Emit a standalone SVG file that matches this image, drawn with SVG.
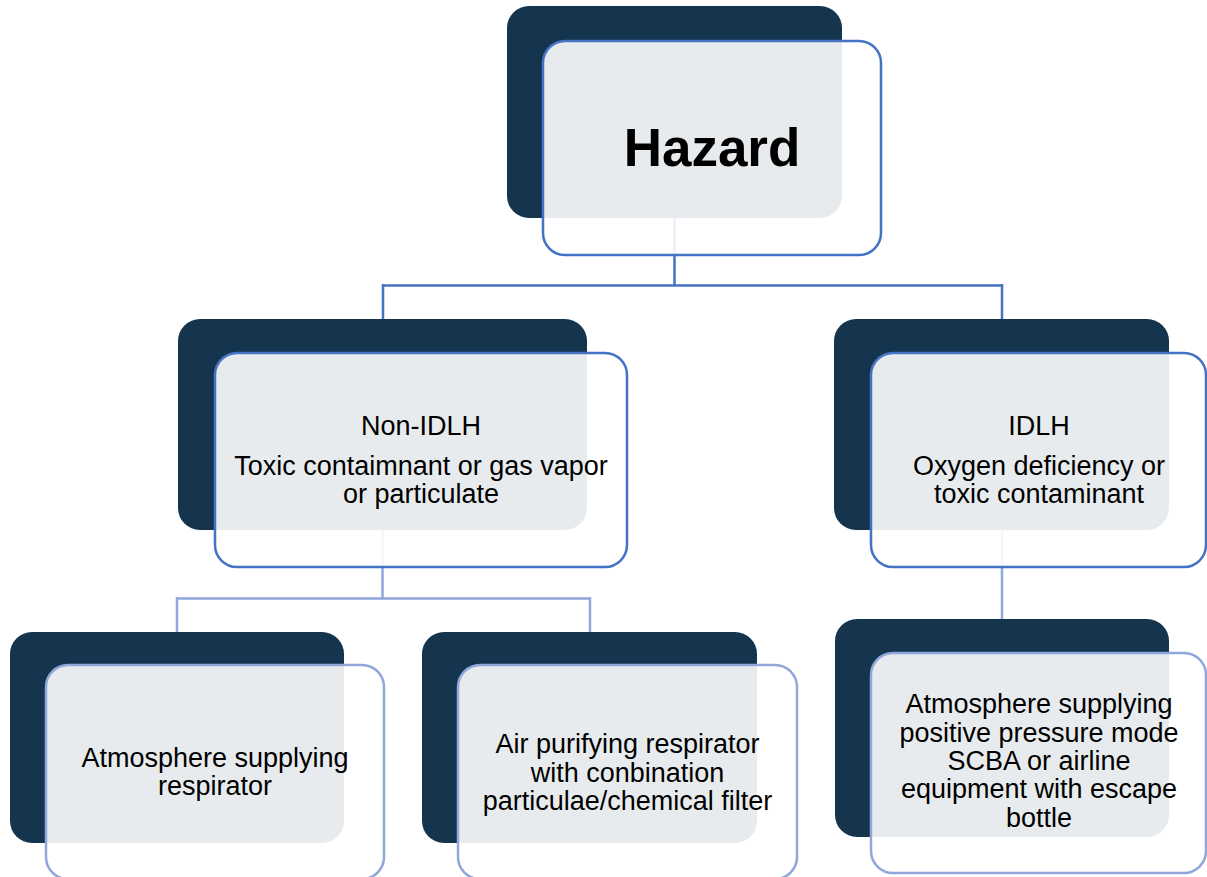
<svg xmlns="http://www.w3.org/2000/svg" width="1207" height="877" viewBox="0 0 1207 877">
<style>
.dark{fill:#15344e}
.lite1{fill:#ffffff;fill-opacity:0.9;stroke:#4472c4;stroke-width:2.5}
.lite2{fill:#ffffff;fill-opacity:0.9;stroke:#8fa7da;stroke-width:2.5}
.c1{fill:none;stroke:#4472c4;stroke-width:2.5}
.c2{fill:none;stroke:#8fa7da;stroke-width:2.5}
text{font-family:"Liberation Sans",Arial,Helvetica,sans-serif;fill:#000;text-anchor:middle}
.t2{font-size:27px}
.t3{font-size:27px}
</style>
<rect width="1207" height="877" fill="#ffffff"/>
<g id="connectors">
<path class="c1" d="M674.5,112 V285.5 M383,285.5 H1002 M383,284 V330 M1002,284 V330"/>
<path class="c2" d="M382.5,425 V598.5 M177,598.5 H590 M177,597 V640 M590,597 V640 M1002,425 V630"/>
</g>
<g id="hazard">
<rect class="dark" x="507" y="6" width="335" height="212" rx="22"/>
<rect class="lite1" x="543" y="41" width="338" height="214" rx="22"/>
<text x="712" y="166" style="font-size:53px;font-weight:bold">Hazard</text>
</g>
<g id="non-idlh">
<rect class="dark" x="178" y="319" width="409" height="211" rx="22"/>
<rect class="lite1" x="215" y="353" width="412" height="214" rx="22"/>
<text class="t2" x="421" y="435">Non-IDLH</text>
<text class="t2" x="421" y="475">Toxic contaimnant or gas vapor</text>
<text class="t2" x="421" y="503">or particulate</text>
</g>
<g id="idlh">
<rect class="dark" x="834" y="319" width="335" height="211" rx="22"/>
<rect class="lite1" x="871" y="353" width="335" height="214" rx="22"/>
<text class="t2" x="1039" y="435">IDLH</text>
<text class="t2" x="1039" y="475">Oxygen deficiency or</text>
<text class="t2" x="1039" y="503">toxic contaminant</text>
</g>
<g id="atmosphere-supplying">
<rect class="dark" x="10" y="632" width="334" height="211" rx="22"/>
<rect class="lite2" x="46" y="665" width="338" height="214" rx="22"/>
<text class="t3" x="215" y="767">Atmosphere supplying</text>
<text class="t3" x="215" y="795">respirator</text>
</g>
<g id="air-purifying">
<rect class="dark" x="422" y="632" width="335" height="211" rx="22"/>
<rect class="lite2" x="458" y="665" width="339" height="214" rx="22"/>
<text class="t3" x="627.5" y="753">Air purifying respirator</text>
<text class="t3" x="627.5" y="782">with conbination</text>
<text class="t3" x="627.5" y="810">particulae/chemical filter</text>
</g>
<g id="scba">
<rect class="dark" x="835" y="619" width="334" height="218" rx="22"/>
<rect class="lite2" x="871" y="653" width="335" height="220" rx="22"/>
<text class="t3" x="1039" y="713">Atmosphere supplying</text>
<text class="t3" x="1039" y="742">positive pressure mode</text>
<text class="t3" x="1039" y="770">SCBA or airline</text>
<text class="t3" x="1039" y="798">equipment with escape</text>
<text class="t3" x="1039" y="827">bottle</text>
</g>
</svg>
